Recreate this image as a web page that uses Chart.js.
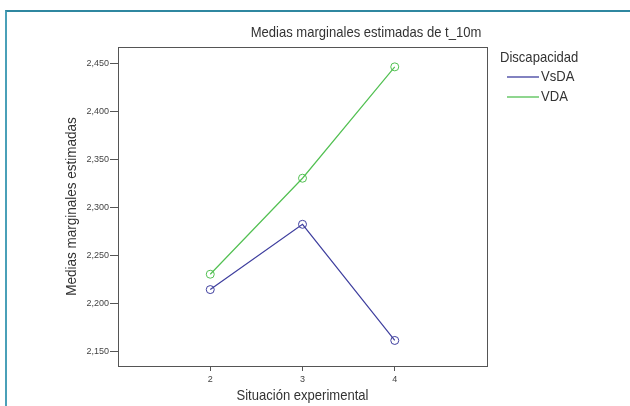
<!DOCTYPE html>
<html>
<head>
<meta charset="utf-8">
<script src="https://cdn.jsdelivr.net/npm/chart.js@4"></script>
<style>
html,body{margin:0;padding:0;background:#fff;}
#wrap{position:absolute;left:0;top:0;width:630px;height:406px;overflow:hidden;}
#frame{position:absolute;left:5px;top:10px;width:640px;height:420px;border-top:2px solid #2f87a0;border-left:2px solid #4aa0b8;}
canvas{position:absolute;left:0;top:0;}
</style>
</head>
<body>
<div id="wrap">
<div id="frame"></div>
<canvas id="c" width="630" height="406"></canvas>
</div>
<script>
const categories = [2, 3, 4];
const seriesNames = ['VsDA', 'VDA'];
const vsdaValues = [2215, 2283, 2162];
const vdaValues = [2231, 2331, 2447];
const yTickValues = [2150, 2200, 2250, 2300, 2350, 2400, 2450];
const xTickValues = [2, 3, 4];
const chartTitle = 'Medias marginales estimadas de t_10m';
const legendTitle = 'Discapacidad';
const xTitle = 'Situación experimental';
const yTitle = 'Medias marginales estimadas';

const FONT = "'Liberation Sans', Arial, sans-serif";
const seriesColors = ['#3e3e9e', '#52c052'];

const toPts = vals => categories.map((c, i) => ({x: c, y: vals[i]}));

function narrowText(ctx, text, x, y, size, sx, align) {
  ctx.save();
  ctx.font = size + 'px ' + FONT;
  ctx.textBaseline = 'middle';
  ctx.textAlign = 'left';
  const w = ctx.measureText(text).width * sx;
  let x0 = x;
  if (align === 'center') x0 = x - w / 2;
  ctx.translate(x0, y);
  ctx.scale(sx, 1);
  ctx.fillText(text, 0, 0);
  ctx.restore();
}

const decor = {
  id: 'decor',
  afterDraw(chart) {
    const ctx = chart.ctx;
    const a = chart.chartArea;
    ctx.save();
    ctx.strokeStyle = '#555';
    ctx.lineWidth = 1;
    ctx.strokeRect(Math.round(a.left) + 0.5, Math.round(a.top) + 0.5, Math.round(a.right - a.left), Math.round(a.bottom - a.top));
    ctx.fillStyle = '#333';
    narrowText(ctx, chartTitle, 366, 33, 15, 0.87, 'center');
    narrowText(ctx, xTitle, (a.left + a.right) / 2, 396, 15, 0.87, 'center');
    ctx.save();
    ctx.translate(72, (a.top + a.bottom) / 2);
    ctx.rotate(-Math.PI / 2);
    narrowText(ctx, yTitle, 0, 0, 15, 0.9, 'center');
    ctx.restore();
    narrowText(ctx, legendTitle, 500, 58, 15, 0.87, 'left');
    const ys = [77, 97];
    seriesNames.forEach((n, i) => {
      ctx.save();
      ctx.strokeStyle = seriesColors[i];
      ctx.lineWidth = 1.3;
      ctx.beginPath();
      ctx.moveTo(507, ys[i]);
      ctx.lineTo(539, ys[i]);
      ctx.stroke();
      ctx.restore();
      ctx.fillStyle = '#333';
      narrowText(ctx, n, 541, ys[i], 15, 0.87, 'left');
    });
    ctx.restore();
  }
};

new Chart(document.getElementById('c'), {
  type: 'line',
  data: {
    datasets: [
      {label: seriesNames[0], data: toPts(vsdaValues), borderColor: seriesColors[0], backgroundColor: 'rgba(0,0,0,0)', pointBackgroundColor: 'rgba(0,0,0,0)', pointBorderColor: seriesColors[0], pointRadius: 4, pointBorderWidth: 1, borderWidth: 1.2, tension: 0},
      {label: seriesNames[1], data: toPts(vdaValues), borderColor: seriesColors[1], backgroundColor: 'rgba(0,0,0,0)', pointBackgroundColor: 'rgba(0,0,0,0)', pointBorderColor: seriesColors[1], pointRadius: 4, pointBorderWidth: 1, borderWidth: 1.2, tension: 0}
    ]
  },
  options: {
    responsive: false,
    animation: false,
    devicePixelRatio: 1,
    layout: {padding: {top: 47, right: 143, bottom: 0, left: 0}},
    plugins: {legend: {display: false}, title: {display: false}, tooltip: {enabled: false}},
    scales: {
      x: {
        type: 'linear', min: 1, max: 5,
        afterBuildTicks: s => { s.ticks = xTickValues.map(v => ({value: v})); },
        afterFit: s => { s.height = 40; },
        grid: {drawOnChartArea: false, drawTicks: true, tickLength: 5, color: '#555'},
        border: {display: true, color: '#555'},
        ticks: {font: {family: FONT, size: 9}, color: '#444', padding: 3, maxRotation: 0},
        title: {display: false}
      },
      y: {
        type: 'linear', min: 2135.4, max: 2467.7,
        afterBuildTicks: s => { s.ticks = yTickValues.map(v => ({value: v})); },
        afterFit: s => { s.width = 118; },
        grid: {drawOnChartArea: false, drawTicks: true, tickLength: 8, color: '#555'},
        border: {display: true, color: '#555'},
        ticks: {font: {family: FONT, size: 9}, color: '#444', padding: 1, callback: v => v.toLocaleString('en-US')},
        title: {display: false}
      }
    }
  },
  plugins: [decor]
});
</script>
</body>
</html>
